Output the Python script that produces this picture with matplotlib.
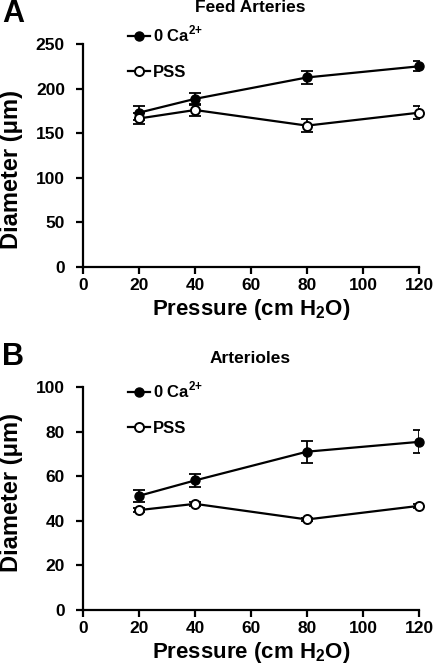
import matplotlib
matplotlib.use("Agg")
import matplotlib.pyplot as plt

plt.rcParams['font.family'] = ['Liberation Sans', 'DejaVu Sans']
plt.rcParams['font.weight'] = 'bold'
plt.rcParams['mathtext.fontset'] = 'custom'
plt.rcParams['mathtext.rm'] = 'Liberation Sans:bold'
plt.rcParams['mathtext.bf'] = 'Liberation Sans:bold'

# Дані
pressure = [20, 40, 80, 120]

# A: Feed Arteries
feed_ca0 = [173, 188.5, 212.5, 225]
feed_ca0_err = [8, 7, 7, 5.5]
feed_pss = [166.5, 176, 158.5, 173]
feed_pss_err = [6, 7, 7.5, 7]

# B: Arterioles
art_ca0 = [51.2, 58.1, 71, 75.4]
art_ca0_err = [2.8, 3, 5, 5.2]
art_pss = [44.8, 47.6, 40.6, 46.7]
art_pss_err = [0.8, 0.8, 0.8, 0.8]

W, H = 433, 667
fig = plt.figure(figsize=(W / 100, H / 100), dpi=100)


def px_axes(left, top, right, bottom):
    return fig.add_axes([left / W, 1 - bottom / H, (right - left) / W, (bottom - top) / H])


def panel(ax, ca0, ca0_err, pss, pss_err, ymax, ystep, label_y, leg_top):
    ax.errorbar(pressure, ca0, yerr=ca0_err, fmt='none', ecolor='black',
                elinewidth=1.3, capsize=4.5, capthick=1.3, zorder=2)
    ax.errorbar(pressure, pss, yerr=pss_err, fmt='none', ecolor='black',
                elinewidth=1.3, capsize=4.5, capthick=1.3, zorder=2)
    l1, = ax.plot(pressure, ca0, '-o', color='black', lw=1.6, ms=6.5,
                  mfc='black', mec='black', zorder=3, clip_on=False)
    l2, = ax.plot(pressure, pss, '-o', color='black', lw=1.6, ms=6.5,
                  mfc='white', mec='black', mew=1.4, zorder=4, clip_on=False)

    ax.set_xlim(0, 120)
    ax.set_ylim(0, ymax)
    ax.set_xticks(range(0, 121, 20))
    ax.set_yticks(range(0, ymax + 1, ystep))
    for s in ['top', 'right']:
        ax.spines[s].set_visible(False)
    for s in ['left', 'bottom']:
        ax.spines[s].set_linewidth(1.6)
    ax.tick_params(direction='out', length=5, width=1.6, labelsize=12.5)
    ax.tick_params(axis='x', pad=3)
    ax.tick_params(axis='y', pad=8)
    for t in ax.get_xticklabels() + ax.get_yticklabels():
        t.set_fontweight('bold')

    ax.set_xlabel(r'Pressure (cm H$_2$O)', fontsize=16, fontweight='bold', labelpad=3)
    ax.set_ylabel('Diameter (μm)', fontsize=17, fontweight='bold')
    ax.yaxis.set_label_coords(-0.18, label_y)

    ax.legend([l1, l2], [r'0 Ca$^{2{+}}$', 'PSS'], loc='upper left',
              bbox_to_anchor=(128 / W, 1 - leg_top / H), bbox_transform=fig.transFigure,
              frameon=False, handlelength=1.3, handletextpad=0.2, labelspacing=1.2,
              borderpad=0, borderaxespad=0, prop={'weight': 'bold', 'size': 12})


axA = px_axes(83, 44, 419, 267)
panel(axA, feed_ca0, feed_ca0_err, feed_pss, feed_pss_err, 250, 50, 0.435, 24)
axB = px_axes(83, 387, 419, 610)
panel(axB, art_ca0, art_ca0_err, art_pss, art_pss_err, 100, 20, 0.525, 380)

fig.text(250 / W, 1 - 8 / H, 'Feed Arteries', ha='center', va='center', fontsize=12.5, fontweight='bold')
fig.text(250 / W, 1 - 358 / H, 'Arterioles', ha='center', va='center', fontsize=12.5, fontweight='bold')
fig.text(2 / W, 1 - 14 / H, 'A', ha='left', va='center', fontsize=22, fontweight='bold')
fig.text(2 / W, 1 - 357 / H, 'B', ha='left', va='center', fontsize=22, fontweight='bold')

fig.savefig('out.png', dpi=100)
